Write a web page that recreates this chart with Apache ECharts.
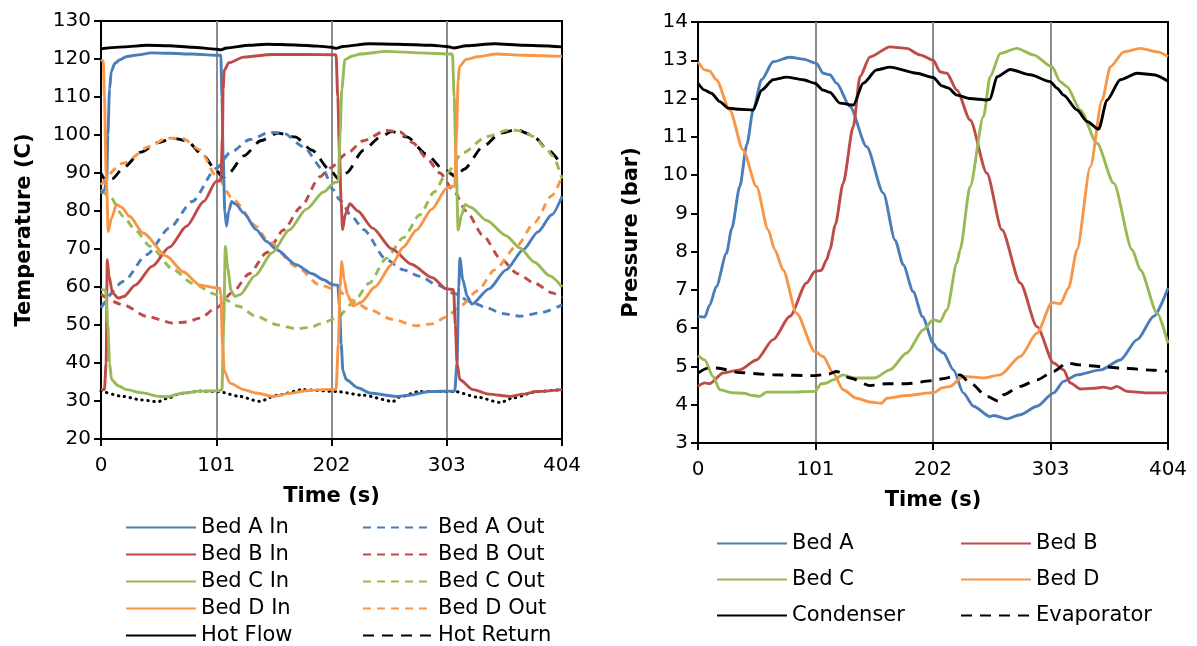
<!DOCTYPE html>
<html>
<head>
<meta charset="utf-8">
<title>Bed temperatures and pressures</title>
<script src="https://cdn.jsdelivr.net/npm/echarts@6/dist/echarts.min.js"></script>
<style>
  html, body { margin: 0; padding: 0; background: #fff; }
  #chart { width: 1197px; height: 646px; }
</style>
</head>
<body>
<div id="chart"></div>
<script>
// ---- axis ticks ----
const timeTicks = [0, 101, 202, 303, 404];
const tempRange = [20, 130];
const pressRange = [3, 14];

// ---- temperature series, [time (s), temperature (C)] ----
const bedAIn = [[0,84.5],[3,85.5],[5,88],[6,100],[7.5,112],[9,116.7],[12,118.8],[16.6,119.8],[22,120.6],[30,121],[44.5,121.6],[60,121.5],[80,121.3],[100,121],[105,121],[106,110],[107,95],[108.5,80],[110,76],[112,80],[114.5,82.5],[118,81.8],[125,79.5],[136,75.1],[145,72],[154,69.8],[171,65.9],[185,63.5],[195,61.9],[203,60.6],[207.5,60.5],[209,55],[210.5,45],[212,38],[215,35.6],[225,33.5],[235.6,32.1],[259,31.2],[270,31.5],[288,32.5],[310,32.6],[312,40],[313.5,60],[314.5,67.6],[317,62],[321,57.5],[325,55.5],[340,59.5],[355,64.5],[370,69.8],[383,74.5],[395,79],[404,83.8]];
const bedBIn = [[0,33],[3,33],[4.5,40],[5.5,67.2],[7,63],[10,58.5],[15,57.1],[20,57.5],[30,60.5],[45,65.5],[60,70.5],[75,76],[90,82.5],[101,87.8],[105,88],[106.5,100],[107,112],[108,117],[112,119],[125,120.5],[150,121.2],[180,121.2],[206,121.1],[207.5,110],[209,95],[210.5,82],[211.7,75.1],[214,79],[218,81.9],[225,80],[238,75.5],[255,70],[272,66],[290,62.5],[303,59.5],[309,59.3],[310.5,50],[312,40],[314.5,35.6],[326,33],[340,31.8],[358,31.2],[370,31.8],[382,32.5],[404,33]];
const bedCIn = [[0,59.3],[4,59.2],[6,50],[7.5,40],[9.3,35.6],[15,34],[22.5,33],[35,32.2],[52,31.2],[58,31.1],[70,32],[87,32.6],[103,32.7],[106,33],[107.5,50],[109,70.7],[111,65],[114,59],[117.4,57.5],[122,58],[135,63],[150,69],[165,75],[180,80.5],[195,85],[205,87.5],[208,87.7],[209.5,100],[211,112],[213.7,119.8],[220,120.8],[227,121.3],[250,122],[280,121.6],[308,121.3],[309.5,110],[311,95],[313,75],[316,79],[319,81.7],[324,81],[338,77.5],[355,73.5],[367,70.3],[380,66.5],[393,63],[404,60]];
const bedDIn = [[0,119.8],[2,119.5],[3,110],[4.5,90],[6.4,74.6],[9,78],[13.7,81.7],[18,81],[25,78.6],[37,74.2],[57.5,68.1],[72,64],[86.7,60.5],[100,59.8],[104,59.7],[105,58],[106.5,45],[108,38],[113,34.7],[125,33],[136,32.1],[151,31.2],[165,32],[180,32.7],[194,33],[206,33.1],[208,45],[209.5,60],[211,66.7],[213,62],[216,58],[221,55],[228,56],[240,60],[255,66],[265,70.5],[276.5,75],[290,80.5],[303,86],[307,86.5],[310,86.5],[311.5,100],[313,114],[314,118],[320,119.9],[330,120.6],[346.6,121.3],[370,121],[404,120.7]];
const bedAOut = [[0,54.5],[20,61.5],[40,68.5],[60,75.5],[80,82.5],[101,91.2],[113,95.3],[130.5,98.8],[148,100.7],[160,100.5],[177,97],[194.7,90.9],[203.5,85.6],[209,83],[220,78.5],[230,75.1],[250,67.2],[265,64.5],[279.4,62.8],[295,60.5],[308.6,58.4],[325,56],[338,54.5],[352,53],[367,52.3],[385,53.2],[404,55.3]];
const bedBOut = [[0,58],[19.5,55.3],[40,52.3],[63,50.5],[75,50.8],[86.7,51.8],[101,54.5],[115,58.5],[130,63.5],[145,69],[160,75],[175,81],[191.8,89],[200.6,91.3],[215,95],[230,98.5],[250,101.2],[262,100.8],[273.6,97.9],[285,94],[297,90],[308.6,85.6],[320,80],[335,73.5],[350,67.5],[365,63.5],[380,61],[395,58.5],[404,57.1]];
const bedCOut = [[0,85.6],[7.9,83.8],[19.5,78.6],[30,75],[43,70.7],[63.3,64.6],[80,61],[101.3,58],[120,55],[136,52.3],[155,50],[171.4,49],[185,49.5],[192,50.3],[206.5,51.8],[221,55.8],[235,61],[250,67.5],[265,73],[279.4,79],[292,85],[303,90],[317,95.3],[338,99.6],[358,101.4],[370,101],[378.7,99.6],[390,96.5],[396,94.4],[404,88.5]];
const bedDOut = [[0,86.9],[19.5,92.6],[43,97],[57.5,99.2],[72,99],[86.7,96.1],[101.3,89.1],[116,83],[136.4,75.9],[145,72.5],[171.4,65.4],[191.8,60.5],[206.5,59.3],[220,56.5],[235.6,54],[255,51.5],[276.6,49.8],[290,50.3],[302.8,52.1],[315,55],[330,59],[345,64.5],[364,70.7],[380,77],[395,84],[404,89]];
const hotFlow = [[0,122.7],[20,123.2],[40,123.6],[60,123.5],[80,123.1],[101,122.6],[105,122.4],[110,122.9],[130,123.6],[145,123.9],[170,123.7],[190,123.4],[202,123.1],[206,122.8],[212,123.3],[235,124],[260,123.9],[290,123.6],[303,123.3],[309,122.9],[320,123.5],[345,124],[370,123.6],[404,123.2]];
const hotReturn = [[0,90],[3,88.5],[5,87.3],[10,88.5],[20,91.5],[35,95.5],[50,98],[63,99.2],[75,98.5],[90,94.5],[100,91],[107,88.8],[112,90],[125,94.5],[140,98.5],[155,100.5],[170,99.5],[185,96],[200,91],[209,88.2],[215,90],[230,96],[245,99.5],[255,100.9],[268,99.5],[285,95],[300,91],[311.6,89],[318,91],[335,97],[350,100.5],[364,101.4],[378,100],[392,96],[404,92]];
const coolingFlow = [[0,32.7],[19.5,31.2],[35,30.3],[50,29.8],[57,30.6],[70,32],[87,32.6],[103,32.5],[120,31.3],[139,29.9],[154,31.5],[177,33],[206,32.5],[230,31.5],[256,29.9],[262,31.1],[279,32.5],[310,32.5],[330,31],[350,29.6],[361,30.8],[382,32.5],[404,33]];

// ---- pressure series, [time (s), pressure (bar)] ----
const bedAP = [[0,6.31],[5.8,6.29],[10,6.6],[15.8,7.09],[24.4,7.95],[29,8.6],[35.9,9.7],[42,10.8],[47.4,11.7],[54.6,12.49],[64.6,12.96],[79,13.08],[90.4,13.03],[101.9,12.92],[107.6,12.66],[113.4,12.62],[119.2,12.4],[130.6,11.79],[145,10.74],[159.3,9.53],[169.4,8.3],[176.5,7.65],[185,6.95],[193,6.3],[202.3,5.6],[206,5.45],[211,5.35],[219.6,4.91],[228,4.31],[236.8,3.96],[251,3.69],[254.4,3.72],[265.5,3.63],[277,3.74],[291.4,3.96],[305.7,4.31],[314.3,4.61],[325.8,4.78],[345.9,4.91],[363,5.17],[377.5,5.7],[391.8,6.31],[404,7.05]];
const bedBP = [[0,4.48],[5.8,4.57],[10,4.55],[21.5,4.83],[35.9,4.91],[50.3,5.17],[64.6,5.7],[79,6.31],[93.3,7.18],[100.5,7.48],[106,7.51],[110.6,7.79],[113.4,8.05],[118,8.7],[124.8,9.79],[133.5,11.27],[139.2,12.57],[147.8,13.09],[165,13.35],[179.4,13.31],[190.9,13.14],[202.3,13.0],[208,12.7],[213.9,12.66],[222.5,12.22],[233.9,11.44],[248.3,10.05],[261.2,8.57],[277,7.18],[291.4,6.04],[305.7,5.09],[314.3,4.91],[320,4.57],[328.6,4.41],[340,4.43],[348.7,4.46],[355,4.42],[360,4.48],[368.8,4.35],[386,4.31],[404,4.31]];
const bedCP = [[0,5.28],[5.8,5.17],[12.9,4.74],[18.7,4.39],[30.1,4.31],[40,4.3],[45,4.25],[53.1,4.22],[58.9,4.33],[79,4.33],[100.5,4.35],[106,4.55],[110,4.56],[116.2,4.65],[124.8,4.78],[133.5,4.7],[152,4.7],[165,4.91],[179.4,5.35],[193.7,5.96],[202.3,6.22],[208,6.17],[213.9,6.48],[222.5,7.7],[225.3,8.05],[233.9,9.7],[245.4,11.53],[251.1,12.57],[259.8,13.18],[274,13.31],[288.4,13.14],[304.3,12.83],[311.4,12.44],[317.2,12.31],[328.6,11.7],[343,10.83],[357.3,9.79],[373.2,8.05],[380.3,7.52],[394.7,6.39],[404,5.6]];
const bedDP = [[0,12.96],[5.8,12.75],[10,12.72],[15.8,12.49],[27.3,11.7],[38.7,10.66],[50.3,9.7],[60.3,8.57],[66,8.05],[73.2,7.52],[84.7,6.39],[100.5,5.39],[107.6,5.26],[116.2,4.83],[124.8,4.39],[136.4,4.17],[147.8,4.07],[157.9,4.04],[162.2,4.17],[179.4,4.24],[199.5,4.31],[204,4.33],[209.6,4.44],[216.7,4.48],[228,4.74],[245.4,4.7],[259.8,4.78],[277,5.26],[291.4,5.87],[304.3,6.67],[311.4,6.64],[318.6,7.05],[325.8,8.05],[337.3,10.22],[347.3,11.96],[354.5,12.83],[366,13.22],[380.3,13.31],[394.7,13.22],[404,13.1]];
const condenser = [[0,12.4],[5.8,12.22],[11.5,12.14],[18.7,11.92],[25.8,11.75],[35.9,11.72],[47.4,11.7],[54.6,12.22],[64.6,12.49],[76.1,12.56],[90.4,12.49],[100.5,12.4],[107.6,12.22],[113.4,12.16],[122,11.88],[133.5,11.83],[142,12.4],[153.6,12.75],[165,12.82],[188,12.66],[202.3,12.55],[209.6,12.33],[215,12.28],[222.5,12.09],[233.9,12.0],[248.3,11.96],[251,11.98],[257,12.57],[268.4,12.76],[285.6,12.62],[302.8,12.44],[308.6,12.27],[314.3,12.09],[325.8,11.7],[334.4,11.4],[344.4,11.2],[351.6,11.96],[363,12.49],[377.5,12.66],[391.8,12.62],[404,12.45]];
const evaporator = [[0,4.83],[8,4.95],[15.8,4.96],[35.9,4.84],[64.6,4.78],[100.5,4.76],[112,4.8],[119.2,4.87],[130.6,4.7],[147.8,4.5],[162,4.55],[179.4,4.55],[202.3,4.63],[210,4.68],[225.3,4.78],[233.9,4.57],[248.3,4.22],[258.3,4.09],[262.6,4.26],[277,4.48],[291.4,4.65],[305.7,4.87],[317.2,5.09],[328.6,5.04],[345.9,5.0],[363,4.96],[391.8,4.9],[404,4.87]];

// ---- styling ----
const FONT = 'DejaVu Sans';
const BLUE = '#4A7EBB', RED = '#BE4B48', GREEN = '#98B954', ORANGE = '#F79646', BLACK = '#000000';
const GRID_LINE = '#8C8C8C';
const LW = 2.9;
const OUT_DASH = [8, 6];
const RETURN_DASH = [11, 8];

function xAxisFor(gridIndex) {
  return {
    type: 'value', gridIndex,
    min: timeTicks[0], max: timeTicks[timeTicks.length - 1], interval: timeTicks[1] - timeTicks[0],
    name: 'Time (s)', nameLocation: 'middle', nameGap: 47,
    nameTextStyle: { fontFamily: FONT, fontSize: 21, fontWeight: 'bold', color: BLACK },
    axisLine: { show: true, onZero: false, lineStyle: { color: BLACK, width: 2 } },
    axisTick: { show: true, inside: false, length: 7, lineStyle: { color: BLACK, width: 2 } },
    axisLabel: { fontFamily: FONT, fontSize: 20, color: BLACK, margin: 17 },
    splitLine: { show: true, lineStyle: { color: ['rgba(0,0,0,0)', GRID_LINE, GRID_LINE, GRID_LINE, 'rgba(0,0,0,0)'], width: 2 } }
  };
}
function yAxisFor(gridIndex, range, name, gap) {
  return {
    type: 'value', gridIndex,
    min: range[0], max: range[1], interval: range[1] - range[0] > 20 ? 10 : 1,
    name, nameLocation: 'middle', nameRotate: 90, nameGap: gap,
    nameTextStyle: { fontFamily: FONT, fontSize: 21, fontWeight: 'bold', color: BLACK },
    axisLine: { show: true, onZero: false, lineStyle: { color: BLACK, width: 2 } },
    axisTick: { show: true, inside: false, length: 7, lineStyle: { color: BLACK, width: 2 } },
    axisLabel: { fontFamily: FONT, fontSize: 20, color: BLACK, margin: 10 },
    splitLine: { show: false }
  };
}
function line(name, data, color, axis, dash, width, cap) {
  return {
    type: 'line', name, data,
    xAxisIndex: axis, yAxisIndex: axis,
    symbol: 'none', showSymbol: false,
    smooth: 0.25, smoothMonotone: 'x',
    lineStyle: { color, width: width || LW, type: dash || 'solid', cap: cap || 'butt' },
    itemStyle: { color },
    emphasis: { disabled: true },
    z: 3
  };
}
// one column of line-sample legend entries (no marker on the sample)
function legendCol(data, left, top, gap) {
  return {
    data, left, top, orient: 'vertical', padding: 0, height: 140,
    itemWidth: 70, itemHeight: 14, itemGap: gap,
    itemStyle: { color: 'rgba(0,0,0,0)', borderWidth: 0, opacity: 0 },
    textStyle: { fontFamily: FONT, fontSize: 21, color: BLACK, lineHeight: 21 },
    selectedMode: false
  };
}

const chart = echarts.init(document.getElementById('chart'), null, { renderer: 'canvas' });
chart.setOption({
  animation: false,
  backgroundColor: '#ffffff',
  grid: [
    { left: 101, top: 21, width: 461, height: 418, show: true, borderColor: BLACK, borderWidth: 2, backgroundColor: 'transparent' },
    { left: 698, top: 22, width: 470, height: 421, show: true, borderColor: BLACK, borderWidth: 2, backgroundColor: 'transparent' }
  ],
  xAxis: [xAxisFor(0), xAxisFor(1)],
  yAxis: [yAxisFor(0, tempRange, 'Temperature (C)', 66), yAxisFor(1, pressRange, 'Pressure (bar)', 56)],
  legend: [
    legendCol(['Bed A In', 'Bed B In', 'Bed C In', 'Bed D In', 'Hot Flow'], 125, 517, 6),
    legendCol(['Bed A Out', 'Bed B Out', 'Bed C Out', 'Bed D Out', 'Hot Return'], 362, 517, 6),
    legendCol(['Bed A', 'Bed C', 'Condenser'], 716, 533, 15),
    legendCol(['Bed B', 'Bed D', 'Evaporator'], 960, 533, 15)
  ],
  series: [
    line('Cooling Flow', coolingFlow, BLACK, 0, [0.5, 5.5], 3, 'round'),
    line('Hot Return', hotReturn, BLACK, 0, RETURN_DASH),
    line('Bed A Out', bedAOut, BLUE, 0, OUT_DASH),
    line('Bed B Out', bedBOut, RED, 0, OUT_DASH),
    line('Bed C Out', bedCOut, GREEN, 0, OUT_DASH),
    line('Bed D Out', bedDOut, ORANGE, 0, OUT_DASH),
    line('Bed A In', bedAIn, BLUE, 0),
    line('Bed B In', bedBIn, RED, 0),
    line('Bed C In', bedCIn, GREEN, 0),
    line('Bed D In', bedDIn, ORANGE, 0),
    line('Hot Flow', hotFlow, BLACK, 0),
    line('Bed A', bedAP, BLUE, 1),
    line('Bed B', bedBP, RED, 1),
    line('Bed C', bedCP, GREEN, 1),
    line('Bed D', bedDP, ORANGE, 1),
    line('Condenser', condenser, BLACK, 1),
    line('Evaporator', evaporator, BLACK, 1, RETURN_DASH)
  ]
});
</script>
</body>
</html>
